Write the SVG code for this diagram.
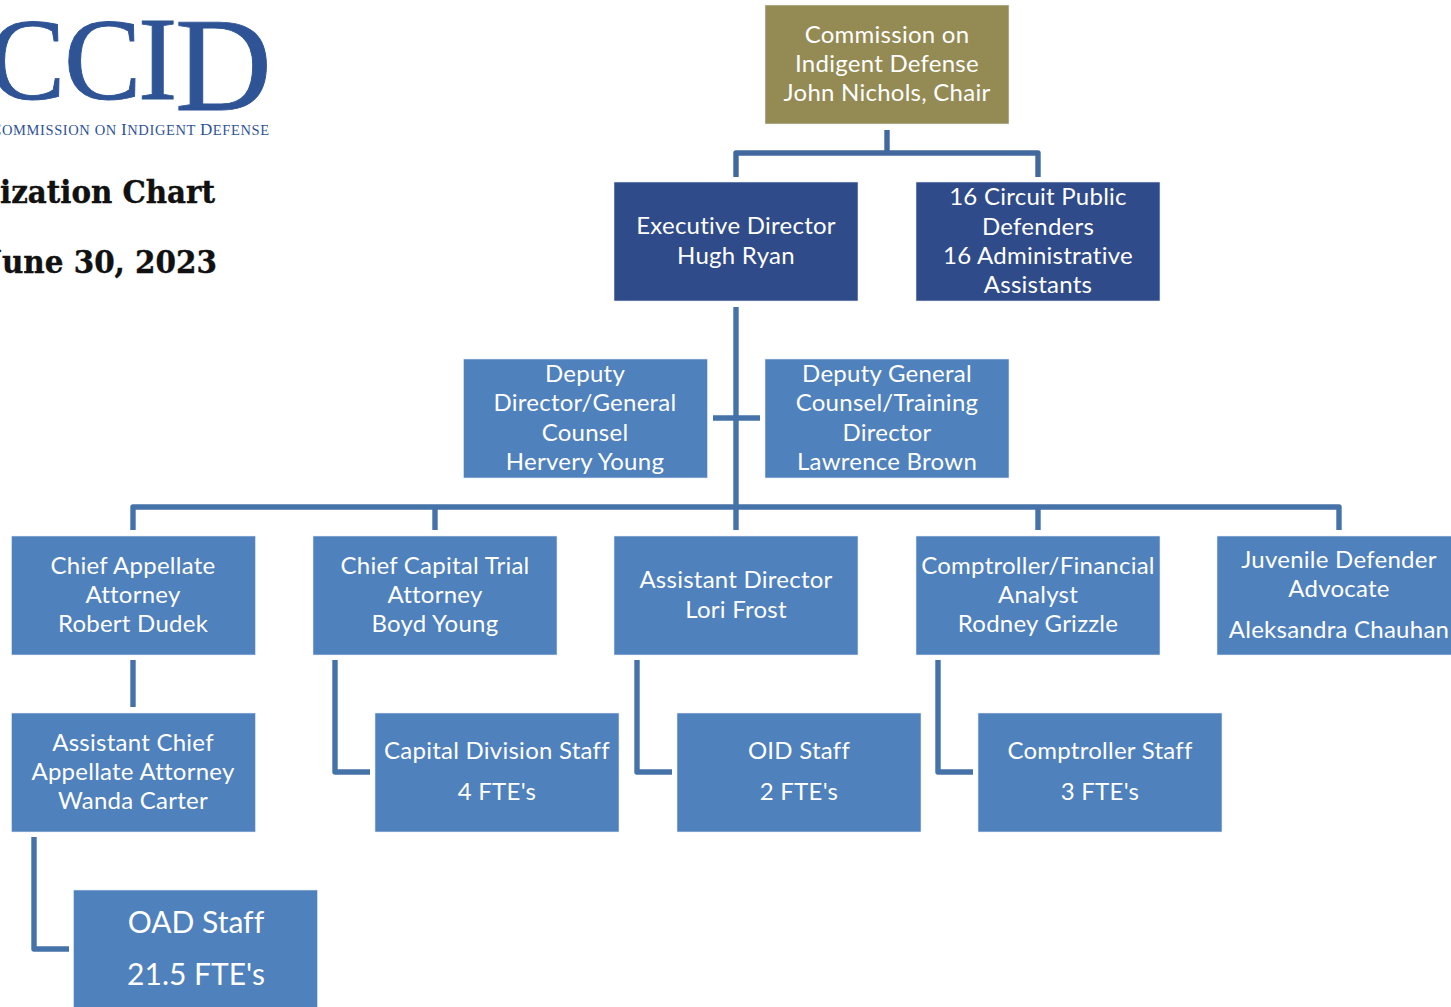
<svg xmlns="http://www.w3.org/2000/svg" width="1451" height="1007" viewBox="0 0 1451 1007">
<style>
.n{stroke:#e4ecf6;stroke-width:.6}
.dk{fill:#2f4b8a}.lt{fill:#4f81bd}.ol{fill:#948a54}
.t{font-family:"Lato","Open Sans",sans-serif;font-size:24px;letter-spacing:.25px;font-variant-ligatures:none;fill:#fff;text-anchor:middle}
.c path{fill:none;stroke:#4573a9;stroke-width:5.4;stroke-linejoin:round}
.h{font-family:"DejaVu Serif",serif;font-weight:700;font-size:31px;fill:#111;stroke:#111;stroke-width:.4}
.l{font-family:"Liberation Serif",serif;fill:#2f5496}
.b{stroke:#2f5496;stroke-width:.9}
</style>
<rect width="1451" height="1007" fill="#fff"/>
<g id="logo">
<text class="l b" x="-12" y="99" font-size="116">C</text>
<text class="l b" x="64" y="99" font-size="116">C</text>
<text class="l b" x="138" y="99" font-size="118">I</text>
<text class="l b" x="175" y="110" font-size="134">D</text>
<text class="l" x="-10" y="135" font-size="14.5" textLength="279" lengthAdjust="spacing"><tspan font-size="17">C</tspan>OMMISSION ON <tspan font-size="17">I</tspan>NDIGENT <tspan font-size="17">D</tspan>EFENSE</text>
</g>
<g id="title">
<text class="h" x="0" y="203" textLength="215" lengthAdjust="spacingAndGlyphs">ization Chart</text>
<text class="h" x="-12" y="273" textLength="229" lengthAdjust="spacingAndGlyphs">June 30, 2023</text>
</g>
<g class="c" id="connectors">
<path d="M887 130V153M736 177V153H1038V177" style="stroke:#41699f"/>
<path d="M736 307V530"/>
<path d="M713 418H760"/>
<path d="M133 530V507H1339V530M435 507V530M1038 507V530"/>
<path d="M133 660V707"/>
<path d="M335 660V772H370"/>
<path d="M637 660V772H672"/>
<path d="M938 660V772H973"/>
<path d="M34 837V949H69"/>
</g>
<g id="n-commission"><rect class="n ol" x="765" y="5" width="244" height="119"/><text class="t"><tspan x="887" y="43">Commission on</tspan><tspan x="887" y="72">Indigent Defense</tspan><tspan x="887" y="101">John Nichols, Chair</tspan></text></g>
<g id="n-exec"><rect class="n dk" x="614" y="182" width="244" height="119"/><text class="t"><tspan x="736" y="234">Executive Director</tspan><tspan x="736" y="264">Hugh Ryan</tspan></text></g>
<g id="n-circuit"><rect class="n dk" x="916" y="182" width="244" height="119"/><text class="t"><tspan x="1038" y="205">16 Circuit Public</tspan><tspan x="1038" y="235">Defenders</tspan><tspan x="1038" y="264">16 Administrative</tspan><tspan x="1038" y="293">Assistants</tspan></text></g>
<g id="n-deputy"><rect class="n lt" x="463.5" y="359" width="244" height="119"/><text class="t"><tspan x="585" y="382">Deputy</tspan><tspan x="585" y="411">Director/General</tspan><tspan x="585" y="441">Counsel</tspan><tspan x="585" y="470">Hervery Young</tspan></text></g>
<g id="n-training"><rect class="n lt" x="765" y="359" width="244" height="119"/><text class="t"><tspan x="887" y="382">Deputy General</tspan><tspan x="887" y="411">Counsel/Training</tspan><tspan x="887" y="441">Director</tspan><tspan x="887" y="470">Lawrence Brown</tspan></text></g>
<g id="n-appellate"><rect class="n lt" x="11.5" y="536" width="244" height="119"/><text class="t"><tspan x="133" y="574">Chief Appellate</tspan><tspan x="133" y="603">Attorney</tspan><tspan x="133" y="632">Robert Dudek</tspan></text></g>
<g id="n-capital"><rect class="n lt" x="313" y="536" width="244" height="119"/><text class="t"><tspan x="435" y="574">Chief Capital Trial</tspan><tspan x="435" y="603">Attorney</tspan><tspan x="435" y="632">Boyd Young</tspan></text></g>
<g id="n-assistant"><rect class="n lt" x="614" y="536" width="244" height="119"/><text class="t"><tspan x="736" y="588">Assistant Director</tspan><tspan x="736" y="618">Lori Frost</tspan></text></g>
<g id="n-comptroller"><rect class="n lt" x="916" y="536" width="244" height="119"/><text class="t"><tspan x="1038" y="574">Comptroller/Financial</tspan><tspan x="1038" y="603">Analyst</tspan><tspan x="1038" y="632">Rodney Grizzle</tspan></text></g>
<g id="n-juvenile"><rect class="n lt" x="1217" y="536" width="244" height="119"/><text class="t"><tspan x="1339" y="568">Juvenile Defender</tspan><tspan x="1339" y="597">Advocate</tspan><tspan x="1339" y="638">Aleksandra Chauhan</tspan></text></g>
<g id="n-asst-chief"><rect class="n lt" x="11.5" y="713" width="244" height="119"/><text class="t"><tspan x="133" y="751">Assistant Chief</tspan><tspan x="133" y="780">Appellate Attorney</tspan><tspan x="133" y="809">Wanda Carter</tspan></text></g>
<g id="n-capstaff"><rect class="n lt" x="375" y="713" width="244" height="119"/><text class="t"><tspan x="497" y="759">Capital Division Staff</tspan><tspan x="497" y="800">4 FTE's</tspan></text></g>
<g id="n-oid"><rect class="n lt" x="677" y="713" width="244" height="119"/><text class="t"><tspan x="799" y="759">OID Staff</tspan><tspan x="799" y="800">2 FTE's</tspan></text></g>
<g id="n-compstaff"><rect class="n lt" x="978" y="713" width="244" height="119"/><text class="t"><tspan x="1100" y="759">Comptroller Staff</tspan><tspan x="1100" y="800">3 FTE's</tspan></text></g>
<g id="n-oad"><rect class="n lt" x="73.5" y="890" width="244" height="119"/><text class="t" style="font-size:30px;letter-spacing:0"><tspan x="196" y="933">OAD Staff</tspan><tspan x="196" y="985">21.5 FTE's</tspan></text></g>
</svg>
